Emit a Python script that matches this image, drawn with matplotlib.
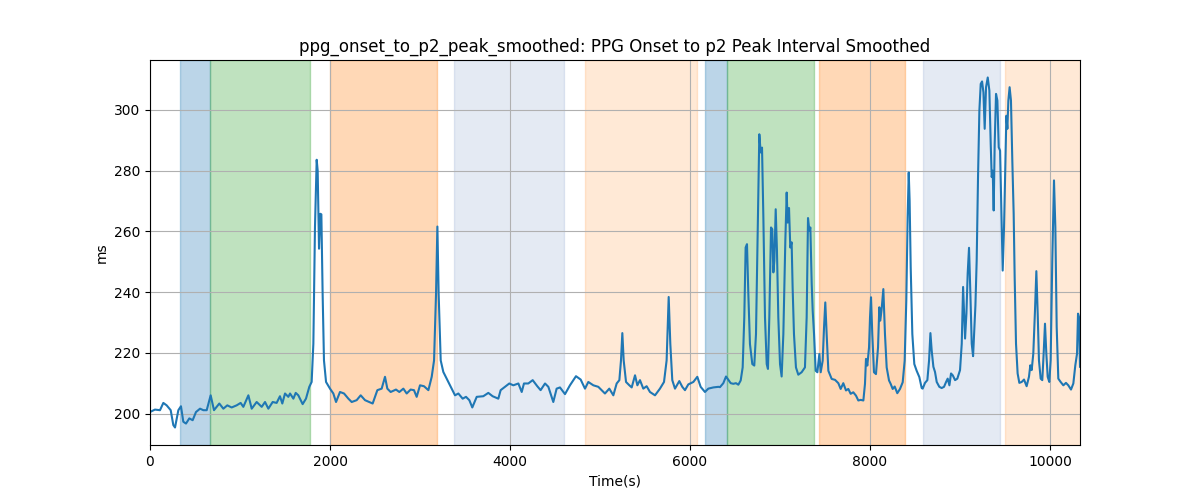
import matplotlib
matplotlib.use("Agg")
import matplotlib.pyplot as plt

# smoothed interval
time_s = [0, 55, 111, 148, 185, 230, 259, 278, 315, 344, 370, 400, 437, 474, 511, 556, 593, 630, 674, 711,
          770, 815, 859, 907, 963, 1007, 1037, 1093, 1130, 1185, 1241, 1278, 1315, 1363, 1407, 1444, 1470, 1500,
          1537, 1556, 1593, 1619, 1648, 1696, 1733, 1770, 1796, 1815, 1833, 1852, 1863, 1878, 1893, 1904, 1918,
          1933, 1956, 2000, 2037, 2067, 2111, 2156, 2204, 2241, 2296, 2341, 2389, 2474, 2526, 2574, 2611, 2637,
          2674, 2733, 2770, 2815, 2852, 2896, 2933, 2963, 3000, 3044, 3093, 3130, 3156, 3178, 3193, 3207, 3230,
          3259, 3315,
          3389, 3426, 3474, 3511, 3548, 3581, 3630, 3703, 3759, 3807, 3870, 3896, 3944, 3992, 4037, 4093, 4130,
          4155, 4203, 4252, 4303, 4340, 4389, 4426, 4481, 4518, 4555, 4611, 4666, 4733, 4785, 4833, 4870, 4926,
          4981, 5055, 5103, 5148, 5185, 5215, 5233, 5248, 5263, 5289, 5326, 5352, 5389, 5415, 5444, 5481, 5518,
          5555, 5611, 5666, 5711, 5740, 5763, 5781, 5803, 5833, 5881, 5914, 5944, 5981, 6037, 6081, 6118, 6166,
          6203, 6259, 6315,
          6333, 6370, 6400, 6426, 6452, 6481, 6511, 6537, 6563, 6585, 6603, 6618, 6633, 6648, 6666, 6692, 6714,
          6733, 6752, 6770, 6785, 6800, 6815, 6833, 6852, 6866, 6881, 6900, 6914, 6926, 6937, 6952, 6966, 6981,
          7000, 7018, 7037, 7059, 7074, 7085, 7100, 7114, 7129, 7140, 7155, 7177, 7203, 7240, 7277, 7296, 7311,
          7326, 7337, 7352, 7363, 7378, 7396, 7415, 7437, 7452, 7474, 7489, 7503, 7518, 7537,
          7574, 7611, 7648, 7674, 7703, 7733, 7759, 7785, 7814, 7844, 7870, 7896, 7926, 7944, 7955, 7970, 7989,
          8000, 8011, 8025, 8044, 8066, 8089, 8103, 8114, 8129, 8148, 8166, 8185, 8211, 8229, 8252, 8274, 8303,
          8333, 8363, 8385, 8403, 8418, 8430, 8440, 8452, 8470, 8492, 8518, 8548, 8574,
          8585, 8611, 8637, 8656, 8671, 8685, 8704, 8722, 8741, 8770, 8796, 8822, 8845, 8863, 8882, 8900, 8919,
          8945, 8970, 9000, 9019, 9034, 9045, 9056, 9071, 9085, 9100, 9115, 9130, 9145, 9160, 9171, 9185, 9200,
          9215, 9230, 9245, 9260, 9274, 9289, 9308, 9326, 9341, 9352, 9363, 9374, 9385, 9400, 9415, 9430, 9445,
          9459, 9474, 9489, 9504, 9515, 9526,
          9537, 9551, 9566, 9581, 9596, 9607, 9622, 9640, 9659, 9685, 9711, 9740, 9766, 9781, 9796, 9814, 9833,
          9848, 9863, 9877, 9896, 9914, 9929, 9944, 9959, 9974, 9992, 10007, 10025, 10044, 10059, 10074, 10092,
          10118, 10148, 10177, 10203, 10233, 10259, 10281, 10300, 10311, 10322, 10333]

interval_ms = [200.5, 201.3, 201.1, 203.5, 202.7, 201.1, 196.2, 195.4, 201.1, 202.4, 197.3, 196.7, 198.4, 197.8,
               200.5, 201.6, 201.1, 201.1, 206.0, 201.1, 203.3, 201.6, 202.7, 202.0, 202.7, 203.5, 202.2, 206.0,
               201.6, 203.8, 202.2, 203.8, 201.6, 203.8, 203.5, 205.7, 203.3, 206.6, 205.5, 206.6, 204.9, 206.8,
               206.0, 203.1, 204.9, 208.8, 210.4, 223.0, 261.4, 283.6, 280.0, 254.3, 265.8, 265.6, 239.5, 217.5,
               210.4, 208.2, 206.6, 203.8, 207.1, 206.6, 204.9, 203.8, 204.4, 206.0, 204.4, 203.3, 207.7, 208.2,
               212.1, 208.2, 207.1, 207.9, 207.1, 208.2, 206.6, 207.9, 207.7, 205.5, 209.3, 209.0, 207.7, 212.1,
               217.5, 239.5, 261.6, 239.5, 217.5, 213.7, 210.4,
               206.0, 206.6, 204.9, 205.5, 204.4, 202.0, 205.5, 205.7, 206.8, 205.7, 204.9, 207.7, 208.8, 209.9,
               209.3, 209.9, 207.1, 209.9, 209.9, 211.0, 209.0, 207.7, 209.9, 208.8, 203.8, 208.2, 208.6, 206.4,
               209.3, 212.3, 211.2, 208.2, 210.4, 209.3, 208.8, 206.6, 208.2, 206.0, 209.9, 211.0, 217.5, 226.5,
               217.5, 210.4, 209.3, 208.6, 212.6, 209.3, 211.0, 208.2, 209.0, 207.1, 206.0, 208.2, 210.4, 217.5,
               238.4, 223.0, 211.0, 208.2, 210.7, 208.8, 207.7, 209.6, 210.4, 212.1, 208.8, 207.1, 208.2, 208.6,
               208.8,
               208.7, 210.0, 212.2, 211.1, 210.0, 209.8, 210.0, 209.5, 210.9, 215.2, 231.7, 254.7, 255.8, 239.4,
               222.9, 216.3, 215.8, 226.2, 259.1, 292.0, 286.0, 287.6, 264.6, 231.7, 216.3, 214.7, 231.7, 261.3,
               260.7, 246.5, 250.3, 267.3, 253.6, 231.7, 216.3, 212.2, 226.2, 256.9, 272.8, 262.9, 267.7, 254.7,
               256.4, 241.6, 226.2, 215.2, 212.8, 213.6, 215.2, 231.7, 264.4, 260.2, 261.3, 242.7, 233.9, 226.2,
               214.1, 213.6, 219.6, 213.6, 217.4, 228.4, 236.6, 226.2, 214.1,
               211.4, 211.1, 210.0, 208.1, 210.0, 207.6, 208.1, 206.5, 207.0, 205.9, 204.3, 204.5, 204.3, 209.8,
               218.0, 215.8, 221.8, 231.7, 238.3, 226.2, 213.6, 213.0, 221.8, 235.0, 230.6, 234.4, 241.0, 226.2,
               215.2, 210.9, 209.8, 208.1, 208.9, 206.7, 208.1, 210.3, 217.4, 237.2, 264.6, 279.4, 270.1, 248.1,
               226.2, 216.3, 214.1, 212.0, 208.4,
               208.2, 210.1, 211.0, 217.5, 226.5, 220.8, 215.4, 213.7, 210.4, 208.8, 208.4, 208.8, 210.4, 211.5,
               209.3, 213.2, 212.6, 211.0, 211.5, 214.3, 223.0, 241.7, 232.9, 224.7, 232.9, 246.1, 254.6, 239.5,
               223.0, 218.9, 228.5, 235.6, 250.4, 277.9, 299.8, 308.6, 309.4, 305.8, 293.8, 307.5, 310.7, 306.4,
               288.8, 277.9, 280.0, 266.9, 288.8, 305.3, 303.1, 287.7, 286.6, 266.9, 247.1, 261.4, 283.3, 298.1,
               293.8,
               303.1, 307.5, 303.1, 283.3, 265.8, 245.0, 223.0, 213.2, 210.1, 210.4, 211.2, 209.0, 212.1, 215.9,
               214.3, 219.7, 234.0, 246.9, 232.9, 217.5, 211.5, 211.0, 219.7, 229.6, 219.7, 212.1, 210.4, 217.5,
               250.4, 276.8, 261.4, 228.5, 211.5, 210.4, 209.3, 210.1, 209.3, 207.9, 209.9, 215.9, 219.7, 232.9,
               231.8, 215.4]

# shaded segments
span_start = [333, 667, 2003, 3378, 4833, 6167, 6415, 7433, 8591, 9500]
span_end = [667, 1782, 3185, 4597, 6074, 6415, 7374, 8387, 9444, 10400]
span_color = ["tab:blue", "tab:green", "tab:orange", "#4c72b0", "tab:orange",
              "tab:blue", "tab:green", "tab:orange", "#4c72b0", "tab:orange"]
span_alpha = [0.3, 0.3, 0.3, 0.15, 0.17, 0.3, 0.3, 0.3, 0.15, 0.17]

fig, ax = plt.subplots(figsize=(12, 5), dpi=100)

for s, e, c, a in zip(span_start, span_end, span_color, span_alpha):
    ax.axvspan(s, e, color=c, alpha=a)

ax.plot(time_s, interval_ms, color="tab:blue", lw=1.5)

ax.set_xlim(0, time_s[-1])
ax.set_title("ppg_onset_to_p2_peak_smoothed: PPG Onset to p2 Peak Interval Smoothed")
ax.set_xlabel("Time(s)")
ax.set_ylabel("ms")
ax.grid(True)

fig.savefig("out.png")
